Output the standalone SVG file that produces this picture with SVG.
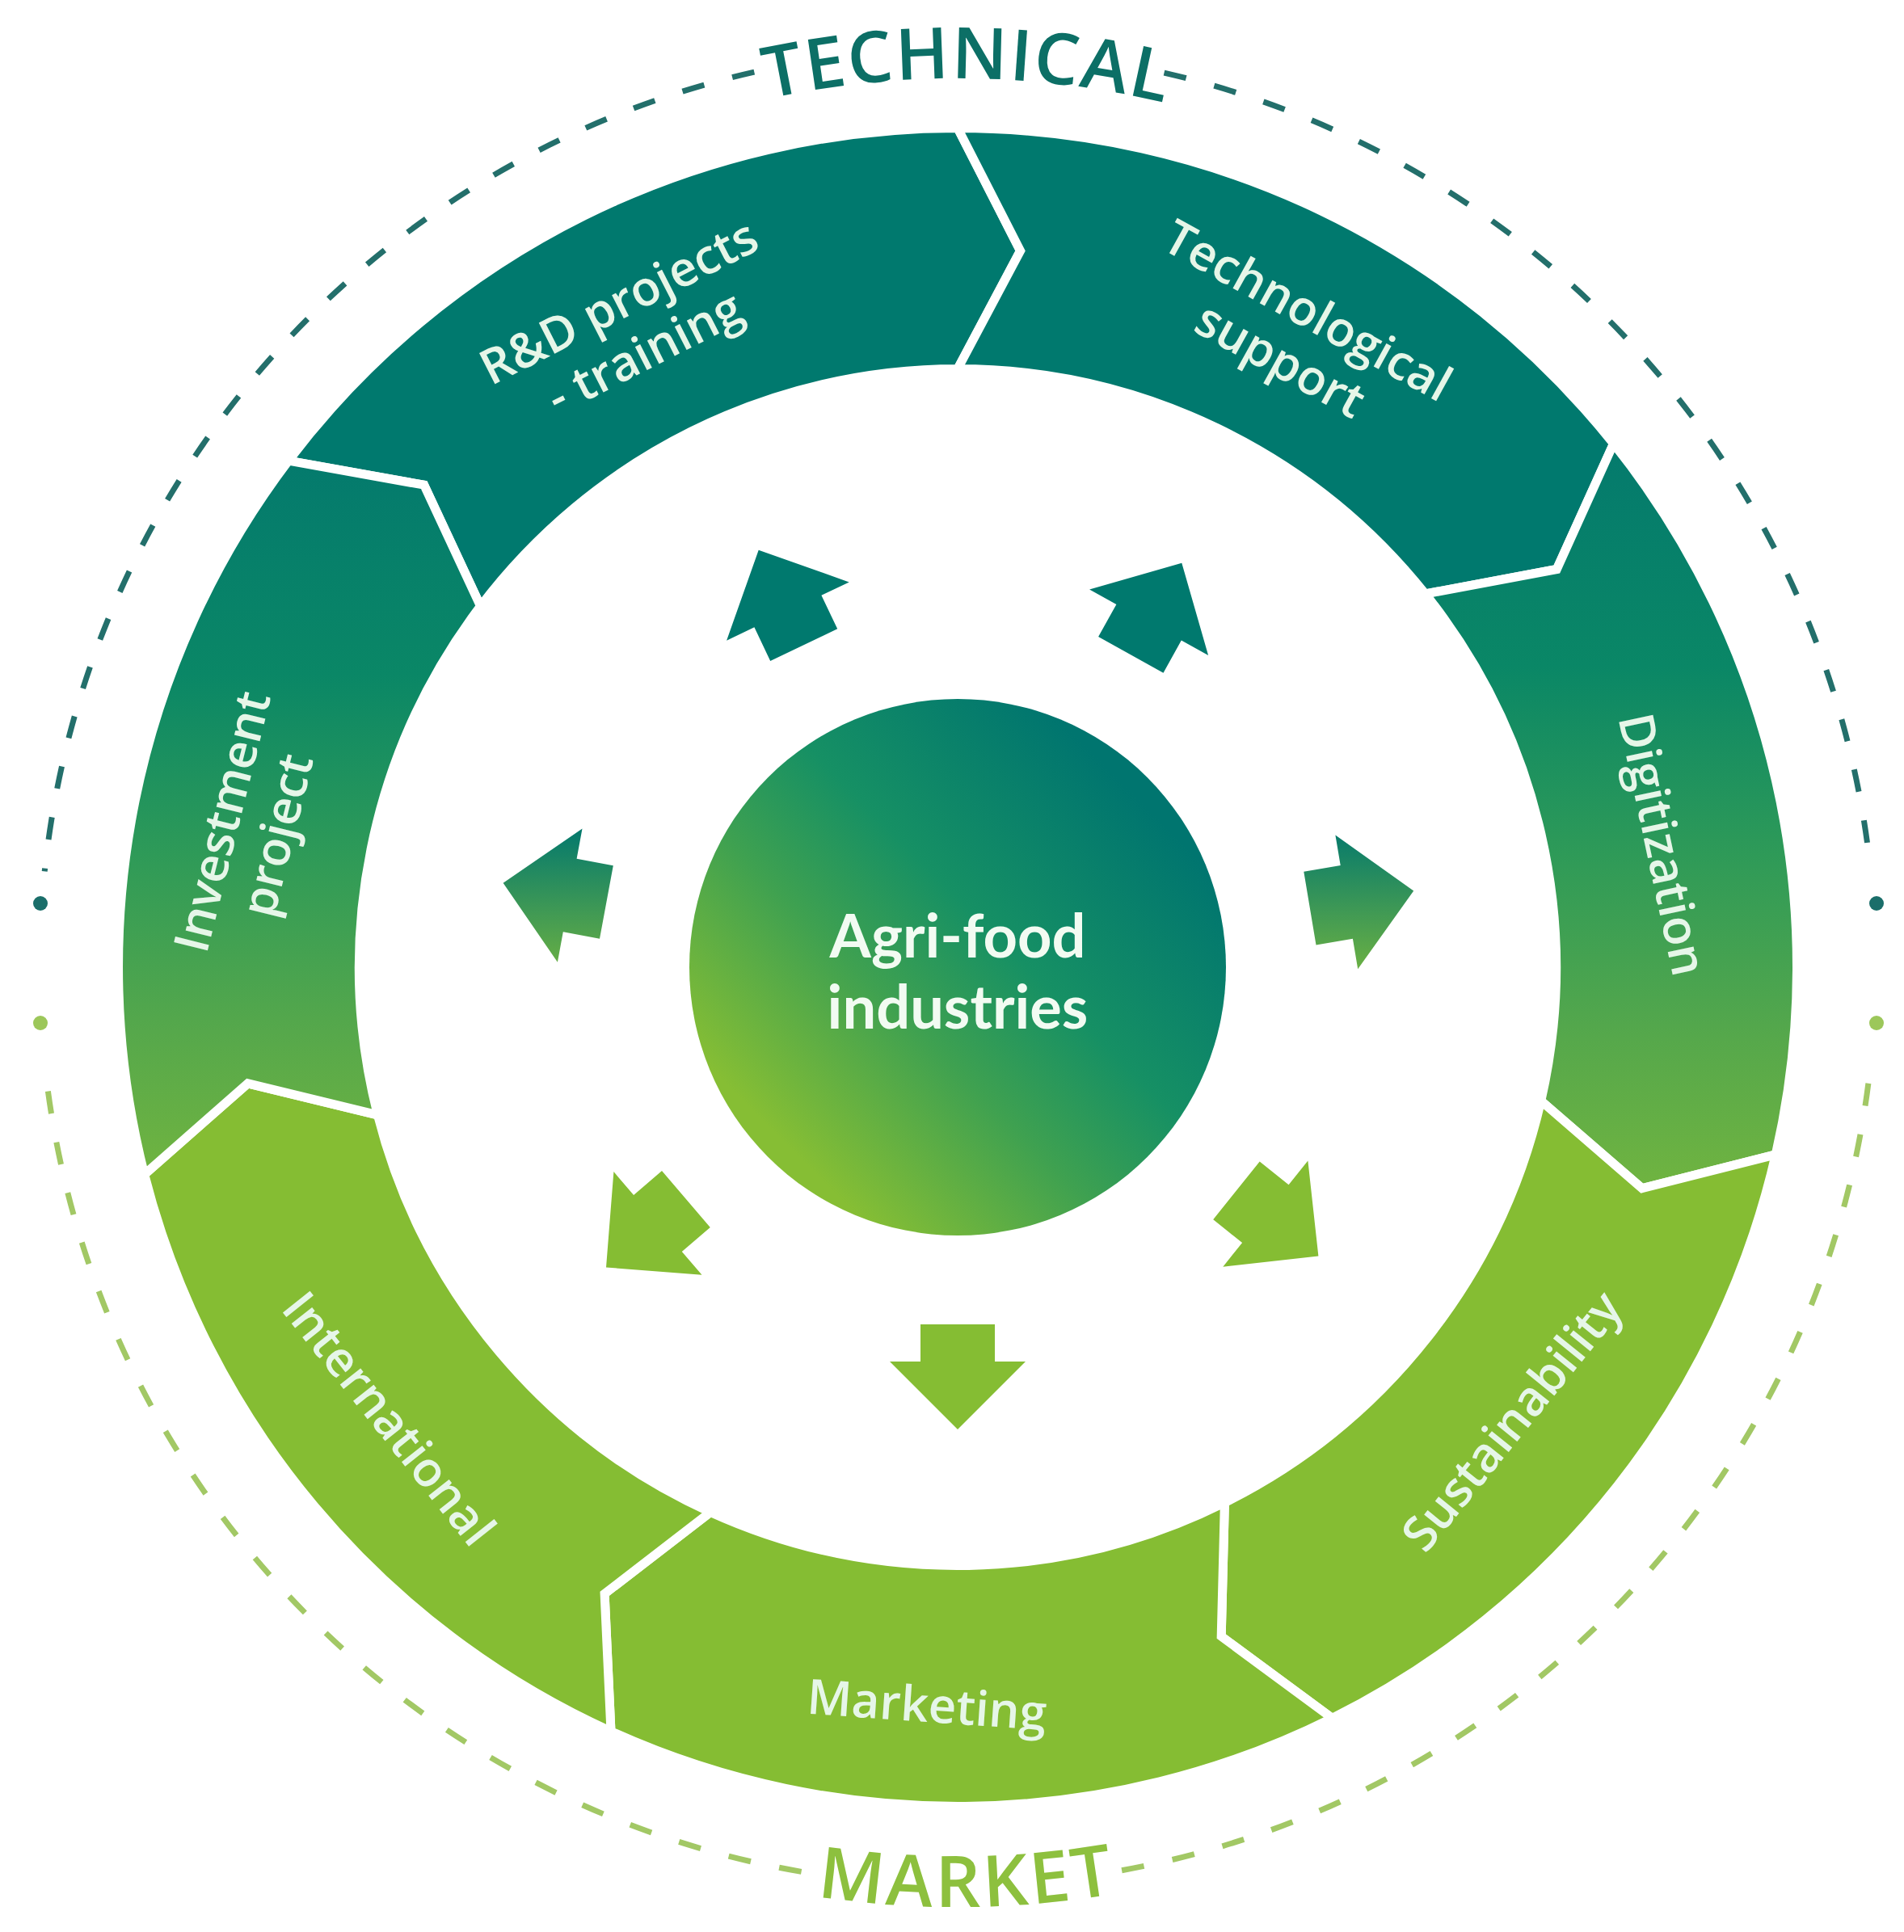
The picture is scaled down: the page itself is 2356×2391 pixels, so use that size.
<svg xmlns="http://www.w3.org/2000/svg" width="2356" height="2391" viewBox="0 0 2356 2391">
<defs>
<style>
.seg{stroke:#ffffff;stroke-width:11;stroke-linejoin:miter}
.teal{fill:#00796E}
.lime{fill:#85BD33}
.lbl{font-family:"Open Sans","Liberation Sans",sans-serif;font-weight:600;font-size:60px;fill:#E6F6E8;text-anchor:middle}
.ctr{font-family:Lato,"Liberation Sans",sans-serif;font-weight:700;font-size:74px;fill:#F2FBF2;text-anchor:middle}
.title{font-family:"Open Sans","Liberation Sans",sans-serif;font-weight:600;font-size:88px}
.dashT{fill:none;stroke:#236F6B;stroke-width:7;stroke-dasharray:28 36}
.dashM{fill:none;stroke:#A2C865;stroke-width:7;stroke-dasharray:28 36}
</style>
<linearGradient id="sideGrad" x1="0" y1="0" x2="0" y2="1">
<stop offset="0" stop-color="#047A6D"/>
<stop offset="0.3" stop-color="#0A8766"/>
<stop offset="0.55" stop-color="#2E9A58"/>
<stop offset="0.8" stop-color="#56A84B"/>
<stop offset="1" stop-color="#70B440"/>
</linearGradient>
<linearGradient id="arrowGrad" gradientUnits="userSpaceOnUse" x1="0" y1="1030" x2="0" y2="1200">
<stop offset="0" stop-color="#067A6C"/>
<stop offset="1" stop-color="#6AB043"/>
</linearGradient>
<linearGradient id="centerGrad" x1="0.2" y1="0.85" x2="0.85" y2="0.2">
<stop offset="0" stop-color="#86BE34"/>
<stop offset="0.35" stop-color="#3FA150"/>
<stop offset="0.6" stop-color="#169064"/>
<stop offset="1" stop-color="#00756F"/>
</linearGradient>
<path id="arcTop" d="M 563.5 289.4 A 1100 1100 0 0 1 1825.3 302.6"/>
<path id="arcBottom" d="M 239.4 1874.0 A 1163 1163 0 0 0 2144.6 1854.1"/>
</defs>

<g id="frame">
<path class="dashT" d="M 933.3 89.2 A 1136 1136 0 0 0 55.2 1078.3"/>
<path class="dashT" d="M 1440.5 90.1 A 1136 1136 0 0 1 2314.8 1078.3"/>
<path class="dashM" d="M 991.6 2316.4 A 1136 1136 0 0 1 55.2 1315.7"/>
<path class="dashM" d="M 1388.1 2314.7 A 1136 1136 0 0 0 2314.8 1315.7"/>
<circle cx="50" cy="1118" r="9" fill="#1A6E6A"/>
<circle cx="2322" cy="1118" r="9" fill="#1A6E6A"/>
<circle cx="50" cy="1266" r="9" fill="#9CC75A"/>
<circle cx="2322" cy="1266" r="9" fill="#9CC75A"/>
</g>

<g id="title-technical">
<text class="title" fill="#0C6F66" letter-spacing="2"><textPath href="#arcTop" startOffset="50%" text-anchor="middle">TECHNICAL</textPath></text>
</g>
<g id="title-market">
<text class="title" fill="#8DC03E" letter-spacing="4"><textPath href="#arcBottom" startOffset="50%" text-anchor="middle">MARKET</textPath></text>
</g>

<g id="node-rd">
<path class="seg teal" d="M 357.0 570.2 A 1038.5 1038.5 0 0 1 1185 158.5 L 1262.6 310.4 L 1185 456.5 A 740.5 740.5 0 0 0 594.6 750.1 L 524.7 600.2 Z"/>
<text class="lbl" transform="translate(781,404) rotate(-27)"><tspan x="0" y="-13">R&amp;D projects</tspan><tspan x="0" y="57">- training</tspan></text>
</g>

<g id="node-tech">
<path class="seg teal" d="M 1185 158.5 A 1038.5 1038.5 0 0 1 1996.6 549.1 L 1926.3 704.5 L 1763.7 735.0 A 740.5 740.5 0 0 0 1185 456.5 L 1262.6 310.4 Z"/>
<text class="lbl" transform="translate(1602,414) rotate(29)"><tspan x="0" y="-13">Technological</tspan><tspan x="0" y="57">support</tspan></text>
</g>

<g id="node-digitization">
<path class="seg" fill="url(#sideGrad)" d="M 1996.6 549.1 A 1038.5 1038.5 0 0 1 2197.3 1428.8 L 2031.9 1470.6 L 1906.8 1362.3 A 740.5 740.5 0 0 0 1763.7 735.0 L 1926.3 704.5 Z"/>
<text class="lbl" transform="translate(2058,1045) rotate(78)" y="22">Digitization</text>
</g>

<g id="node-sustainability">
<path class="seg lime" d="M 2197.3 1428.8 A 1038.5 1038.5 0 0 1 1648.4 2126.4 L 1511.2 2025.1 L 1515.4 1859.7 A 740.5 740.5 0 0 0 1906.8 1362.3 L 2031.9 1470.6 Z"/>
<text class="lbl" transform="translate(1870,1758) rotate(-51)" y="22">Sustainability</text>
</g>

<g id="node-marketing">
<path class="seg lime" d="M 1648.4 2126.4 A 1038.5 1038.5 0 0 1 756.0 2142.7 L 748.1 1972.4 L 879.1 1871.4 A 740.5 740.5 0 0 0 1515.4 1859.7 L 1511.2 2025.1 Z"/>
<text class="lbl" transform="translate(1147,2109) rotate(4)" y="22">Marketing</text>
</g>

<g id="node-international">
<path class="seg lime" d="M 756.0 2142.7 A 1038.5 1038.5 0 0 1 178.7 1453.5 L 306.7 1340.8 L 467.4 1379.9 A 740.5 740.5 0 0 0 879.1 1871.4 L 748.1 1972.4 Z"/>
<text class="lbl" transform="translate(482,1755) rotate(51.5)" y="22">International</text>
</g>

<g id="node-investment">
<path class="seg" fill="url(#sideGrad)" d="M 178.7 1453.5 A 1038.5 1038.5 0 0 1 357.0 570.2 L 524.7 600.2 L 594.6 750.1 A 740.5 740.5 0 0 0 467.4 1379.9 L 306.7 1340.8 Z"/>
<text class="lbl" transform="translate(308,1025) rotate(-76)"><tspan x="0" y="-13">Investment</tspan><tspan x="0" y="57">project</tspan></text>
</g>

<g id="node-center">
<circle cx="1185" cy="1197" r="332" fill="url(#centerGrad)"/>
<text class="ctr"><tspan x="1185" y="1185">Agri-food</tspan><tspan x="1185" y="1273">industries</tspan></text>
</g>

<g id="connectors">
<polygon class="teal" points="953.2,817.9 933.4,776.3 899.1,792.7 938.7,680.7 1050.7,720.4 1016.4,736.7 1036.2,778.3"/>
<polygon class="teal" points="1359.1,788.1 1381.4,747.9 1348.1,729.5 1462.3,696.7 1495.1,811.0 1461.8,792.5 1439.5,832.7"/>
<polygon fill="url(#arrowGrad)" points="1613.3,1078.7 1658.7,1071.1 1652.4,1033.6 1749.2,1102.6 1680.2,1199.3 1673.9,1161.8 1628.5,1169.4"/>
<polygon class="lime" points="1558.7,1437.5 1594.6,1466.2 1618.4,1436.6 1631.4,1554.6 1513.3,1567.7 1537.1,1538.0 1501.2,1509.3"/>
<polygon class="lime" points="1231,1639 1231,1685 1269,1685 1185,1769 1101,1685 1139,1685 1139,1639"/>
<polygon class="lime" points="878.8,1519.0 843.8,1548.9 868.5,1577.8 750.0,1568.5 759.4,1450.1 784.1,1479.0 819.0,1449.1"/>
<polygon fill="url(#arrowGrad)" points="742.0,1161.7 696.8,1153.3 689.9,1190.7 622.6,1092.8 720.5,1025.5 713.6,1062.8 758.8,1071.2"/>
</g>
</svg>
